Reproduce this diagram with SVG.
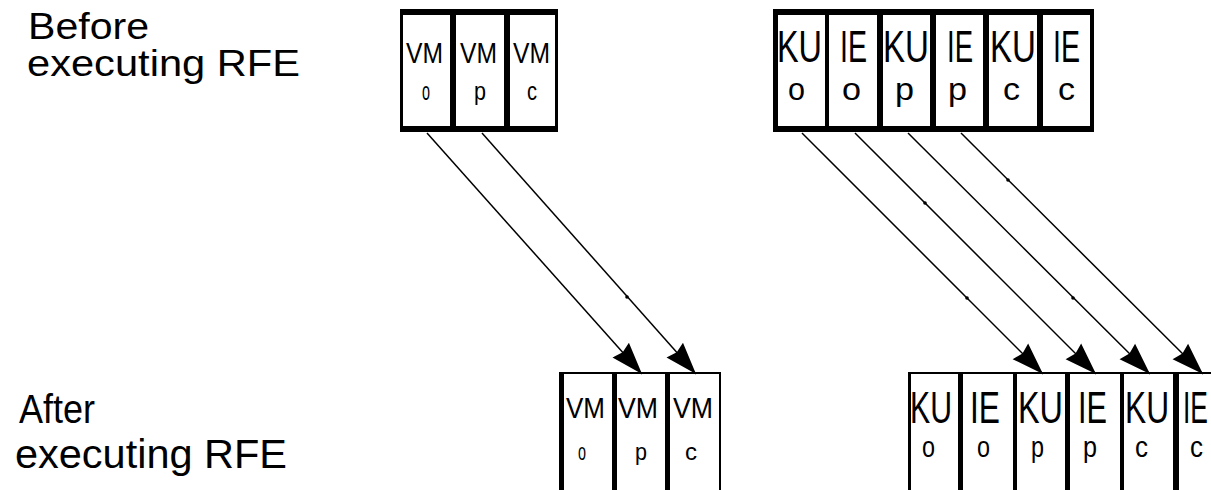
<svg xmlns="http://www.w3.org/2000/svg" width="1211" height="490" viewBox="0 0 1211 490">
  <style>
    .bar { fill: #000; }
    .cell { fill: #fff; }
    .txt { font-family: "Liberation Sans", Arial, sans-serif; fill: #000; }
    .wire { stroke: #000; stroke-width: 1.5; fill: none; marker-end: url(#head); }
    .knot { fill: #000; }
  </style>
  <defs>
    <marker id="head" viewBox="0 0 32 24" refX="32" refY="12" markerWidth="32" markerHeight="24" markerUnits="userSpaceOnUse" orient="auto">
      <path d="M0,1 L32,12 L0,23 L3,12 z" fill="#000"/>
    </marker>
  </defs>

  <rect width="1211" height="490" fill="#fff"/>

  <!-- row captions -->
  <g id="caption-before" class="txt" font-size="36">
    <text x="28" y="39" textLength="121" lengthAdjust="spacingAndGlyphs">Before</text>
    <text x="27" y="76" textLength="273" lengthAdjust="spacingAndGlyphs">executing RFE</text>
  </g>
  <g id="caption-after" class="txt" font-size="40">
    <text x="19" y="423" textLength="76" lengthAdjust="spacingAndGlyphs">After</text>
    <text x="15" y="468" textLength="272" lengthAdjust="spacingAndGlyphs">executing RFE</text>
  </g>

  <!-- VM registers before RFE -->
  <g id="vm-before">
    <rect class="cell" x="400" y="9" width="158" height="123"/>
    <rect class="bar" x="400" y="9" width="158" height="6"/>
    <rect class="bar" x="400" y="126" width="158" height="6"/>
    <rect class="bar" x="400" y="9" width="3" height="123"/>
    <rect class="bar" x="450" y="9" width="6" height="123"/>
    <rect class="bar" x="504" y="9" width="6" height="123"/>
    <rect class="bar" x="555" y="9" width="3" height="123"/>
    <g class="txt" font-size="30">
      <text x="406" y="63" textLength="37" lengthAdjust="spacingAndGlyphs">VM</text>
      <text x="460" y="63" textLength="37" lengthAdjust="spacingAndGlyphs">VM</text>
      <text x="513" y="63" textLength="37" lengthAdjust="spacingAndGlyphs">VM</text>
    </g>
    <g class="txt" font-size="26">
      <text x="422" y="100" textLength="8" lengthAdjust="spacingAndGlyphs">o</text>
      <text x="474" y="100" textLength="12" lengthAdjust="spacingAndGlyphs">p</text>
      <text x="527" y="100" textLength="10" lengthAdjust="spacingAndGlyphs">c</text>
    </g>
  </g>

  <!-- KU/IE bits before RFE -->
  <g id="kuie-before">
    <rect class="cell" x="773" y="9" width="321" height="123"/>
    <rect class="bar" x="773" y="9" width="321" height="6"/>
    <rect class="bar" x="773" y="126" width="321" height="6"/>
    <rect class="bar" x="773" y="9" width="5" height="123"/>
    <rect class="bar" x="825" y="9" width="4" height="123"/>
    <rect class="bar" x="877" y="9" width="6" height="123"/>
    <rect class="bar" x="930" y="9" width="6" height="123"/>
    <rect class="bar" x="983" y="9" width="6" height="123"/>
    <rect class="bar" x="1037" y="9" width="6" height="123"/>
    <rect class="bar" x="1090" y="9" width="4" height="123"/>
    <g class="txt" font-size="45">
      <text x="777" y="62" textLength="45" lengthAdjust="spacingAndGlyphs">KU</text>
      <text x="840" y="62" textLength="27" lengthAdjust="spacingAndGlyphs">IE</text>
      <text x="883" y="62" textLength="46" lengthAdjust="spacingAndGlyphs">KU</text>
      <text x="947" y="62" textLength="26" lengthAdjust="spacingAndGlyphs">IE</text>
      <text x="990" y="62" textLength="46" lengthAdjust="spacingAndGlyphs">KU</text>
      <text x="1053" y="62" textLength="27" lengthAdjust="spacingAndGlyphs">IE</text>
    </g>
    <g class="txt" font-size="32">
      <text x="788" y="100" textLength="17" lengthAdjust="spacingAndGlyphs">o</text>
      <text x="842" y="100" textLength="19" lengthAdjust="spacingAndGlyphs">o</text>
      <text x="895" y="100" textLength="19" lengthAdjust="spacingAndGlyphs">p</text>
      <text x="948" y="100" textLength="19" lengthAdjust="spacingAndGlyphs">p</text>
      <text x="1003" y="100" textLength="17" lengthAdjust="spacingAndGlyphs">c</text>
      <text x="1058" y="100" textLength="17" lengthAdjust="spacingAndGlyphs">c</text>
    </g>
  </g>

  <!-- VM registers after RFE -->
  <g id="vm-after">
    <rect class="cell" x="559" y="373" width="162" height="120"/>
    <rect class="bar" x="559" y="372" width="162" height="2"/>
    <rect class="bar" x="559" y="373" width="5" height="120"/>
    <rect class="bar" x="612" y="373" width="5" height="120"/>
    <rect class="bar" x="665" y="373" width="5" height="120"/>
    <rect class="bar" x="719" y="373" width="2" height="120"/>
    <g class="txt" font-size="29">
      <text x="566" y="418" textLength="39" lengthAdjust="spacingAndGlyphs">VM</text>
      <text x="618" y="418" textLength="40" lengthAdjust="spacingAndGlyphs">VM</text>
      <text x="673" y="418" textLength="40" lengthAdjust="spacingAndGlyphs">VM</text>
    </g>
    <g class="txt" font-size="24">
      <text x="578" y="460" textLength="8" lengthAdjust="spacingAndGlyphs">o</text>
      <text x="635" y="460" textLength="12" lengthAdjust="spacingAndGlyphs">p</text>
      <text x="685" y="460" textLength="12" lengthAdjust="spacingAndGlyphs">c</text>
    </g>
  </g>

  <!-- KU/IE bits after RFE -->
  <g id="kuie-after">
    <rect class="cell" x="908" y="373" width="310" height="120"/>
    <rect class="bar" x="908" y="372" width="310" height="2"/>
    <rect class="bar" x="908" y="373" width="3" height="120"/>
    <rect class="bar" x="958" y="373" width="5" height="120"/>
    <rect class="bar" x="1013" y="373" width="4" height="120"/>
    <rect class="bar" x="1065" y="373" width="5" height="120"/>
    <rect class="bar" x="1120" y="373" width="4" height="120"/>
    <rect class="bar" x="1173" y="373" width="6" height="120"/>
    <g class="txt" font-size="45">
      <text x="910" y="423" textLength="42" lengthAdjust="spacingAndGlyphs">KU</text>
      <text x="970" y="423" textLength="30" lengthAdjust="spacingAndGlyphs">IE</text>
      <text x="1018" y="423" textLength="45" lengthAdjust="spacingAndGlyphs">KU</text>
      <text x="1078" y="423" textLength="29" lengthAdjust="spacingAndGlyphs">IE</text>
      <text x="1125" y="423" textLength="44" lengthAdjust="spacingAndGlyphs">KU</text>
      <text x="1183" y="423" textLength="25" lengthAdjust="spacingAndGlyphs">IE</text>
    </g>
    <g class="txt" font-size="30">
      <text x="922" y="457" textLength="13" lengthAdjust="spacingAndGlyphs">o</text>
      <text x="977" y="457" textLength="13" lengthAdjust="spacingAndGlyphs">o</text>
      <text x="1031" y="457" textLength="13" lengthAdjust="spacingAndGlyphs">p</text>
      <text x="1083" y="457" textLength="14" lengthAdjust="spacingAndGlyphs">p</text>
      <text x="1135" y="457" textLength="13" lengthAdjust="spacingAndGlyphs">c</text>
      <text x="1190" y="457" textLength="13" lengthAdjust="spacingAndGlyphs">c</text>
    </g>
  </g>

  <!-- transfer arrows -->
  <g id="connectors">
    <path class="wire" d="M427,133 L642,374"/>
    <path class="wire" d="M482,133 L696,374"/>
    <path class="wire" d="M802,133 L1043,374"/>
    <path class="wire" d="M855,133 L1096,374"/>
    <path class="wire" d="M908,133 L1150,374"/>
    <path class="wire" d="M961,133 L1203,374"/>
    <circle class="knot" cx="627" cy="297" r="1.8"/>
    <circle class="knot" cx="925" cy="203" r="1.8"/>
    <circle class="knot" cx="967" cy="298" r="1.8"/>
    <circle class="knot" cx="1008" cy="180" r="1.8"/>
    <circle class="knot" cx="1073" cy="298" r="1.8"/>
  </g>
</svg>
